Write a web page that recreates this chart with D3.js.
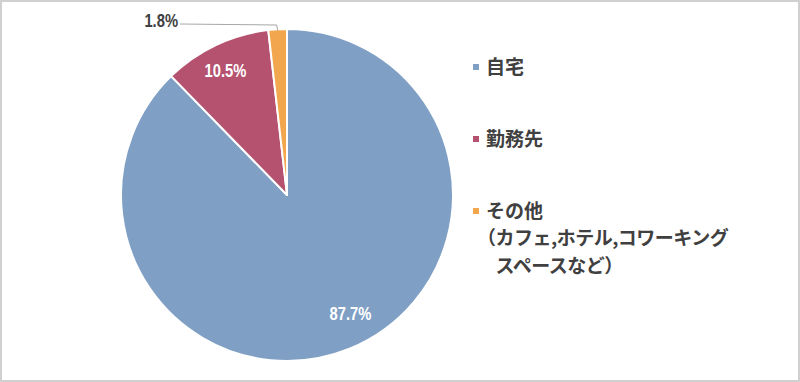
<!DOCTYPE html>
<html>
<head>
<meta charset="utf-8">
<script src="https://cdn.jsdelivr.net/npm/d3@7"></script>
<style>
  html, body { margin: 0; padding: 0; background: #fff; }
  svg { display: block; }
</style>
</head>
<body>
<svg id="chart" width="800" height="382"></svg>
<script>
// data
const categories = ['自宅', '勤務先', 'その他']
const values = [87.7, 10.5, 1.8]
const labels = ['87.7%', '10.5%', '1.8%']
const legendExtra = ['（カフェ,ホテル,コワーキング', '　スペースなど）']
const colors = ['#7f9fc4', '#b4526f', '#f2a74e']

const w = 800
const h = 382
const cx = 287
const cy = 195
const r = 166
const numFont = '"Liberation Sans", Arial, sans-serif'
const jpFont = '"Noto Sans CJK JP", sans-serif'

const svg = d3.select('#chart')

// frame
svg.append('rect')
   .attr('x', 1).attr('y', 1)
   .attr('width', w - 2).attr('height', h - 2)
   .attr('fill', '#fff')
   .attr('stroke', '#d0d0d0')
   .attr('stroke-width', 2)

const pie = d3.pie().sort(null).value(d => d)
const arcs = pie(values)
const arc = d3.arc().innerRadius(0).outerRadius(r)

const g = svg.append('g').attr('transform', `translate(${cx},${cy})`)

g.selectAll('path')
 .data(arcs)
 .enter()
 .append('path')
 .attr('d', arc)
 .attr('fill', (d, i) => colors[i])
 .attr('stroke', '#fff')
 .attr('stroke-width', 2)
 .attr('stroke-linejoin', 'round')

// condensed bold number labels (narrow font is not installed, so squeeze)
const numLabel = (x, y, txt, fill, anchor) => {
  g.append('text')
   .attr('transform', `translate(${x},${y}) scale(0.82,1)`)
   .attr('text-anchor', anchor)
   .attr('dominant-baseline', 'central')
   .attr('fill', fill)
   .style('font-family', numFont)
   .style('font-weight', 'bold')
   .style('font-size', '18px')
   .text(txt)
}

// inside labels: radius fraction and small angle shift (Excel best fit)
const inside = [
  { i: 0, k: 0.81, shift: -6 },
  { i: 1, k: 0.835, shift: -1 }
]
inside.forEach(o => {
  const a = (arcs[o.i].startAngle + arcs[o.i].endAngle) / 2 + o.shift * Math.PI / 180
  numLabel(Math.sin(a) * r * o.k, -Math.cos(a) * r * o.k, labels[o.i], '#fff', 'middle')
})

// outside label with leader line for the small slice
const small = arcs[2]
const mid = (small.startAngle + small.endAngle) / 2
const edge = [Math.sin(mid) * (r - 1), -Math.cos(mid) * (r - 1)]
const elbow = [edge[0] - 1, -r - 4]
const lineEnd = [180 - cx, -r - 5]
g.append('polyline')
 .attr('points', [edge, elbow, lineEnd].map(p => p.join(',')).join(' '))
 .attr('fill', 'none')
 .attr('stroke', '#a6a6a6')
 .attr('stroke-width', 1)
numLabel(lineEnd[0] - 2, lineEnd[1] - 4, labels[2], '#404040', 'end')

// legend
const legendX = 473
const legendY = [67, 139, 211]
const legend = svg.selectAll('g.legend')
  .data(categories)
  .enter()
  .append('g')
  .attr('class', 'legend')
  .attr('transform', (d, i) => `translate(${legendX},${legendY[i]})`)

legend.append('rect')
      .attr('x', 0).attr('y', -3)
      .attr('width', 6).attr('height', 6)
      .attr('fill', (d, i) => colors[i])

legend.append('text')
      .attr('x', 13).attr('y', -2)
      .attr('dominant-baseline', 'central')
      .attr('fill', '#404040')
      .style('font-family', jpFont)
      .style('font-weight', 'bold')
      .style('font-size', '19px')
      .text(d => d)

svg.append('g')
   .selectAll('text')
   .data(legendExtra)
   .enter()
   .append('text')
   .attr('x', legendX + 4)
   .attr('y', (d, i) => 236 + i * 28)
   .attr('dominant-baseline', 'central')
   .attr('fill', '#404040')
   .style('font-family', jpFont)
   .style('font-weight', 'bold')
   .style('font-size', '19px')
   .style('letter-spacing', '-0.5px')
   .text(d => d)
</script>
</body>
</html>
